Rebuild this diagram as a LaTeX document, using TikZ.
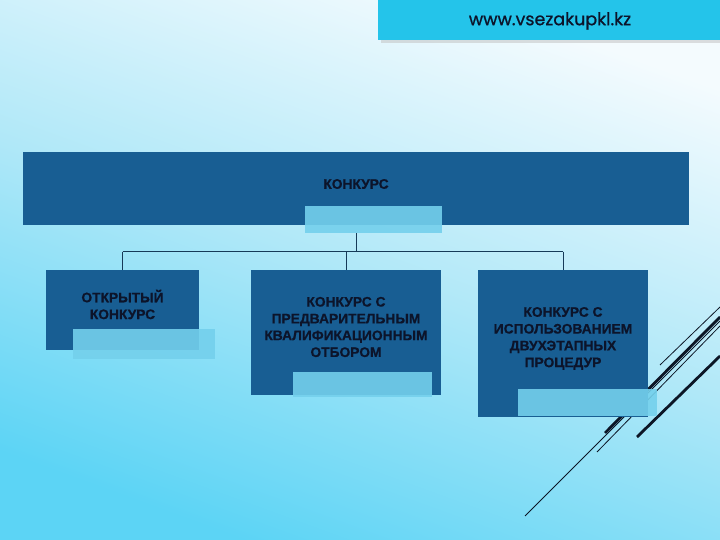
\documentclass[tikz,border=0pt]{standalone}
\usepackage{fontspec}
\setmainfont{Liberation Sans}
\newfontfamily\urlfont[FakeBold=0.8]{Poppins}
\newfontfamily\heavyfont[FakeBold=0.6]{Liberation Sans Bold}
\definecolor{boxblue}{RGB}{24,94,147}
\definecolor{lightbox}{RGB}{116,208,236}
\definecolor{navytext}{RGB}{12,20,42}
\definecolor{bannercol}{RGB}{36,196,234}
\definecolor{linecol}{RGB}{12,22,38}
\definecolor{connector}{RGB}{22,58,88}
\definecolor{bgtop}{RGB}{244,251,254}
\definecolor{bgmid}{RGB}{176,232,248}
\definecolor{bgbot}{RGB}{92,212,245}
\begin{document}
\begin{tikzpicture}[x=1pt,y=-1pt,
  darkbox/.style={fill=boxblue, draw=none, inner sep=0pt, anchor=north west},
  lightrect/.style={fill=lightbox, fill opacity=0.9, draw=none, inner sep=0pt, anchor=north west},
  boxtext/.style={text=navytext, font=\heavyfont\fontsize{13.8}{16.8}\selectfont, align=center, inner sep=0pt},
  conn/.style={draw=connector, line width=0.9pt},
  thinl/.style={draw=linecol, line width=0.8pt},
  thickl/.style={draw=linecol, line width=2.8pt},
]
\useasboundingbox (0,0) rectangle (720,540);
% background
\shade[top color=bgtop, bottom color=bgbot, middle color=bgmid, shading angle=-20] (0,0) rectangle (720,540);

% banner
\fill[black!25, opacity=0.5] (381,2) rectangle (720,43);
\node[fill=bannercol, inner sep=0pt, minimum width=342pt, minimum height=40pt, anchor=north west] (banner) at (378,0) {};
\node[text=navytext, font=\urlfont\fontsize{17.5}{20}\selectfont, inner sep=0pt] (url) at (550,21) {www.vsezakupkl.kz};

% decorative diagonal lines (behind boxes)
\draw[thinl] (660,365) -- (720,307);
\draw[thickl] (605,433) -- (720,317);
\draw[thinl] (597,452) -- (720,326);
\draw[thinl] (525,516) -- (720,321);
\draw[thickl] (637,437) -- (720,356);

% top box
\node[darkbox, minimum width=666pt, minimum height=73pt] (top) at (23,152) {};
\node[boxtext] (toptxt) at (356,184) {КОНКУРС};
\node[lightrect, minimum width=137pt, minimum height=27pt] (topsub) at (305,206) {};

% lower boxes
\node[darkbox, minimum width=153pt, minimum height=80pt] (b1) at (46,270) {};
\node[lightrect, minimum width=142pt, minimum height=30pt] (s1) at (73,329) {};
\node[boxtext] (t1) at (122.5,304.5) {ОТКРЫТЫЙ\\КОНКУРС};

\node[darkbox, minimum width=190pt, minimum height=125pt] (b2) at (251,270) {};
\node[lightrect, minimum width=139pt, minimum height=25pt] (s2) at (293,372) {};
\node[boxtext] (t2) at (346,327) {КОНКУРС С\\ПРЕДВАРИТЕЛЬНЫМ\\КВАЛИФИКАЦИОННЫМ\\ОТБОРОМ};

\node[darkbox, minimum width=170pt, minimum height=147pt] (b3) at (478,270) {};
\node[lightrect, minimum width=139pt, minimum height=27pt] (s3) at (518,389) {};
\node[boxtext] (t3) at (563,338.5) {КОНКУРС С\\ИСПОЛЬЗОВАНИЕМ\\ДВУХЭТАПНЫХ\\ПРОЦЕДУР};

% connectors
\coordinate (j) at (356.5,251.5);
\draw[conn] (topsub.south -| j) -- (j);
\draw[conn] (b1.north |- j) -- (b3.north |- j);
\draw[conn] (b1.north |- j) -- (b1.north);
\draw[conn] (b2.north |- j) -- (b2.north);
\draw[conn] (b3.north |- j) -- (b3.north);
\end{tikzpicture}
\end{document}
